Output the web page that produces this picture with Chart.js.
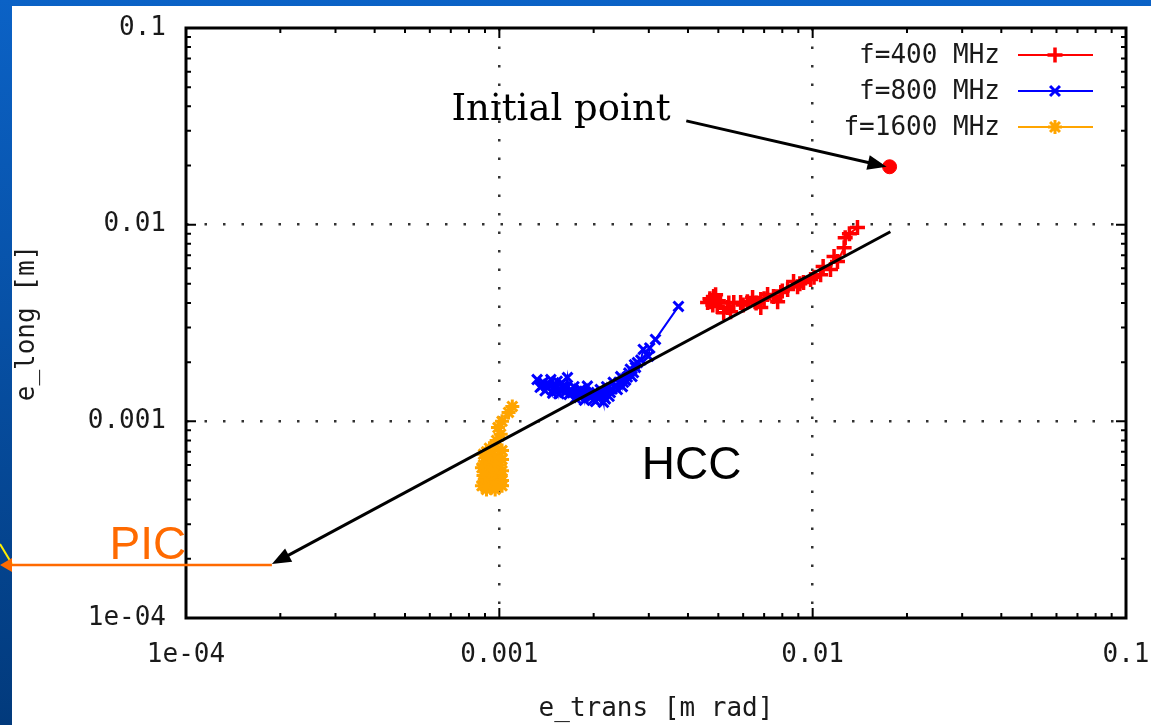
<!DOCTYPE html>
<html>
<head>
<meta charset="utf-8">
<script src="https://cdn.jsdelivr.net/npm/chart.js@4.4.1/dist/chart.umd.min.js"></script>
<style>
  html, body { margin: 0; padding: 0; background: #0a58b4; overflow: hidden; }
  canvas { display: block; }
</style>
</head>
<body>
<canvas id="chart" width="1151" height="725"></canvas>
<script>
// axis ticks (log decades)
const xTicks = [1e-4, 1e-3, 1e-2, 1e-1]
const xTickLabels = ['1e-04', '0.001', '0.01', '0.1']
const yTicks = [1e-4, 1e-3, 1e-2, 1e-1]
const yTickLabels = ['1e-04', '0.001', '0.01', '0.1']

const seriesLabels = ['f=400 MHz', 'f=800 MHz', 'f=1600 MHz']
const seriesColors = ['#ff0000', '#0000ff', '#ffa500']
const seriesMarkers = ['cross', 'crossRot', 'star']

// from the start of each run (upper right) down
const red400 = [
  {x: 0.0139, y: 0.00966}, {x: 0.0131, y: 0.0090}, {x: 0.0127, y: 0.00859}, {x: 0.0126, y: 0.00764},
  {x: 0.0120, y: 0.00649}, {x: 0.0117, y: 0.00689}, {x: 0.0114, y: 0.00591}, {x: 0.0108, y: 0.00612},
  {x: 0.0106, y: 0.00557}, {x: 0.0101, y: 0.0054}, {x: 0.00985, y: 0.00526}, {x: 0.00935, y: 0.00508},
  {x: 0.0091, y: 0.0050}, {x: 0.00895, y: 0.00484}, {x: 0.00869, y: 0.00514}, {x: 0.00832, y: 0.00468},
  {x: 0.0080, y: 0.0046}, {x: 0.00791, y: 0.00452}, {x: 0.00773, y: 0.00406}, {x: 0.0075, y: 0.00431},
  {x: 0.00718, y: 0.00441}, {x: 0.0070, y: 0.0042}, {x: 0.00683, y: 0.00416}, {x: 0.00683, y: 0.00379},
  {x: 0.0066, y: 0.0040}, {x: 0.00643, y: 0.00426}, {x: 0.00619, y: 0.00406}, {x: 0.0060, y: 0.0039},
  {x: 0.00589, y: 0.00402}, {x: 0.0056, y: 0.00402}, {x: 0.00547, y: 0.00361}, {x: 0.0054, y: 0.0040},
  {x: 0.00535, y: 0.00379}, {x: 0.0052, y: 0.00357}, {x: 0.00508, y: 0.00402}, {x: 0.0050, y: 0.0041},
  {x: 0.00496, y: 0.00384}, {x: 0.0049, y: 0.0044}, {x: 0.00483, y: 0.00431}, {x: 0.0048, y: 0.0039},
  {x: 0.00472, y: 0.00406}, {x: 0.0047, y: 0.0042}, {x: 0.00462, y: 0.00402}
]
const blue800 = [
  {x: 0.00373, y: 0.00384}, {x: 0.00315, y: 0.00261}, {x: 0.00302, y: 0.00236}, {x: 0.00299, y: 0.00214},
  {x: 0.00288, y: 0.00232}, {x: 0.00283, y: 0.00205}, {x: 0.00276, y: 0.00199}, {x: 0.00272, y: 0.00188},
  {x: 0.00270, y: 0.00194}, {x: 0.00268, y: 0.00177}, {x: 0.00265, y: 0.00169}, {x: 0.00262, y: 0.00184},
  {x: 0.00259, y: 0.00176}, {x: 0.00256, y: 0.00168}, {x: 0.00253, y: 0.00162}, {x: 0.00249, y: 0.00158},
  {x: 0.00247, y: 0.00150}, {x: 0.00244, y: 0.00169}, {x: 0.00241, y: 0.00158}, {x: 0.00238, y: 0.00145},
  {x: 0.00235, y: 0.00152}, {x: 0.00231, y: 0.00158}, {x: 0.00229, y: 0.00146}, {x: 0.00226, y: 0.00140},
  {x: 0.00224, y: 0.00134}, {x: 0.00220, y: 0.00150}, {x: 0.00218, y: 0.00130}, {x: 0.00215, y: 0.00134},
  {x: 0.00215, y: 0.00125}, {x: 0.00212, y: 0.00139}, {x: 0.00210, y: 0.00145}, {x: 0.00208, y: 0.00131},
  {x: 0.00206, y: 0.00137}, {x: 0.00203, y: 0.00126}, {x: 0.00200, y: 0.00129}, {x: 0.00198, y: 0.00135},
  {x: 0.00195, y: 0.00132}, {x: 0.00193, y: 0.00140}, {x: 0.00191, y: 0.00151}, {x: 0.00188, y: 0.00140},
  {x: 0.00187, y: 0.00128}, {x: 0.00185, y: 0.00137}, {x: 0.00182, y: 0.00145}, {x: 0.00180, y: 0.00133},
  {x: 0.00177, y: 0.00142}, {x: 0.00175, y: 0.00131}, {x: 0.00173, y: 0.00150}, {x: 0.00171, y: 0.00141},
  {x: 0.00169, y: 0.00145}, {x: 0.00167, y: 0.00137}, {x: 0.00165, y: 0.00167}, {x: 0.00163, y: 0.00147},
  {x: 0.00162, y: 0.00140}, {x: 0.00160, y: 0.00151}, {x: 0.00158, y: 0.00157}, {x: 0.00156, y: 0.00146},
  {x: 0.00155, y: 0.00138}, {x: 0.00153, y: 0.00160}, {x: 0.00151, y: 0.00150}, {x: 0.00149, y: 0.00145},
  {x: 0.00148, y: 0.00139}, {x: 0.00146, y: 0.00163}, {x: 0.00144, y: 0.00155}, {x: 0.00142, y: 0.00150},
  {x: 0.00140, y: 0.00143}, {x: 0.00138, y: 0.00158}, {x: 0.00137, y: 0.00152}, {x: 0.00135, y: 0.00149},
  {x: 0.00132, y: 0.00163}
]
const orange1600 = [
  {x: 0.00110, y: 0.00119}, {x: 0.00107, y: 0.00111}, {x: 0.00102, y: 0.00100}, {x: 0.00099, y: 0.00093},
  {x: 0.00101, y: 0.00086}, {x: 0.00098, y: 0.00080}, {x: 0.00097, y: 0.00074}, {x: 0.00093, y: 0.00073},
  {x: 0.00102, y: 0.00071}, {x: 0.00091, y: 0.00070}, {x: 0.00089, y: 0.00068}, {x: 0.00095, y: 0.00068},
  {x: 0.00099, y: 0.00066}, {x: 0.00102, y: 0.00064}, {x: 0.00092, y: 0.00064}, {x: 0.00096, y: 0.00063},
  {x: 0.00092, y: 0.00062}, {x: 0.00089, y: 0.00060}, {x: 0.00095, y: 0.00060}, {x: 0.00100, y: 0.00060},
  {x: 0.00088, y: 0.00058}, {x: 0.00097, y: 0.00059}, {x: 0.00102, y: 0.00056}, {x: 0.00093, y: 0.00056},
  {x: 0.00094, y: 0.00055}, {x: 0.00089, y: 0.00053}, {x: 0.00097, y: 0.00053}, {x: 0.00101, y: 0.00053},
  {x: 0.00102, y: 0.00050}, {x: 0.00095, y: 0.00050}, {x: 0.00093, y: 0.00049}, {x: 0.00089, y: 0.00049},
  {x: 0.00088, y: 0.00047}, {x: 0.00098, y: 0.00047}, {x: 0.00102, y: 0.00047}, {x: 0.00094, y: 0.00046},
  {x: 0.00091, y: 0.00045}, {x: 0.00097, y: 0.00045}
]
const initialPoint = [{x: 0.0176, y: 0.0197}]

// annotations (data coordinates)
const notes = {
  initialText: {x: 0.00352, y: 0.0341},
  initialArrowFrom: {x: 0.00395, y: 0.0337},
  hccText: {x: 0.00285, y: 0.000508},
  hccLine: [{x: 0.0177, y: 0.0092}, {x: 0.000188, y: 0.000188}],
  picText: {x: 5.7e-5, y: 0.0002}
}

const mono = '"DejaVu Sans Mono", monospace'
const inkColor = '#1a1a1a'

function arrow(ctx, x1, y1, x2, y2, color) {
  const a = Math.atan2(y2 - y1, x2 - x1)
  const c = Math.cos(a), s = Math.sin(a)
  ctx.strokeStyle = color
  ctx.fillStyle = color
  ctx.lineWidth = 3
  ctx.beginPath()
  ctx.moveTo(x1, y1)
  ctx.lineTo(x2 - 10 * c, y2 - 10 * s)
  ctx.stroke()
  ctx.beginPath()
  ctx.moveTo(x2, y2)
  ctx.lineTo(x2 - 19 * c + 7.5 * s, y2 - 19 * s - 7.5 * c)
  ctx.lineTo(x2 - 19 * c - 7.5 * s, y2 - 19 * s + 7.5 * c)
  ctx.closePath()
  ctx.fill()
}

const slidePlugin = {
  id: 'slide',
  beforeDraw(chart) {
    const ctx = chart.ctx
    const g = ctx.createLinearGradient(0, 0, 0, chart.height)
    g.addColorStop(0, '#0b62c6')
    g.addColorStop(1, '#023a7c')
    ctx.save()
    ctx.fillStyle = g
    ctx.fillRect(0, 0, chart.width, chart.height)
    ctx.fillStyle = '#ffffff'
    ctx.fillRect(12, 6, chart.width - 12, chart.height - 6)
    ctx.restore()
  },
  afterDatasetsDraw(chart) {
    const {ctx, chartArea: a, scales: {x, y}} = chart
    ctx.save()
    // tics, inward, on all four sides
    ctx.strokeStyle = '#000'
    ctx.lineWidth = 2
    for (let i = 0; i < xTicks.length; i++) {
      const dec = xTicks[i]
      for (let m = 1; m <= (i === xTicks.length - 1 ? 1 : 9); m++) {
        const len = m === 1 ? 10 : 5
        const px = x.getPixelForValue(dec * m)
        ctx.beginPath()
        ctx.moveTo(px, a.bottom); ctx.lineTo(px, a.bottom - len)
        ctx.moveTo(px, a.top); ctx.lineTo(px, a.top + len)
        ctx.stroke()
      }
    }
    for (let i = 0; i < yTicks.length; i++) {
      const dec = yTicks[i]
      for (let m = 1; m <= (i === yTicks.length - 1 ? 1 : 9); m++) {
        const len = m === 1 ? 10 : 5
        const py = y.getPixelForValue(dec * m)
        ctx.beginPath()
        ctx.moveTo(a.left, py); ctx.lineTo(a.left + len, py)
        ctx.moveTo(a.right, py); ctx.lineTo(a.right - len, py)
        ctx.stroke()
      }
    }
    ctx.lineWidth = 3
    ctx.strokeRect(a.left, a.top, a.right - a.left, a.bottom - a.top)
    ctx.restore()
  },
  afterDraw(chart) {
    const {ctx, chartArea: a, scales: {x, y}} = chart
    ctx.save()
    // key
    ctx.font = '26px ' + mono
    ctx.textAlign = 'right'
    ctx.textBaseline = 'middle'
    for (let i = 0; i < 3; i++) {
      const ds = chart.data.datasets[i]
      const cy = a.top + 27 + 36 * i
      ctx.fillStyle = inkColor
      ctx.fillText(ds.label, a.right - 126, cy + 1)
      ctx.strokeStyle = ds.borderColor
      ctx.fillStyle = ds.borderColor
      ctx.lineWidth = 2
      ctx.beginPath()
      ctx.moveTo(a.right - 108, cy); ctx.lineTo(a.right - 33, cy)
      ctx.stroke()
      ctx.lineWidth = ds.pointBorderWidth
      Chart.helpers.drawPoint(ctx, {pointStyle: ds.pointStyle, radius: ds.pointRadius, borderWidth: ds.pointBorderWidth, rotation: 0}, a.right - 71, cy)
    }
    // Initial point
    const ix = x.getPixelForValue(notes.initialText.x)
    const iy = y.getPixelForValue(notes.initialText.y)
    ctx.fillStyle = '#000'
    ctx.font = '37px "DejaVu Serif", serif'
    ctx.textAlign = 'right'
    ctx.textBaseline = 'alphabetic'
    ctx.fillText('Initial point', ix, iy)
    arrow(ctx, x.getPixelForValue(notes.initialArrowFrom.x), y.getPixelForValue(notes.initialArrowFrom.y),
      x.getPixelForValue(initialPoint[0].x) - 3, y.getPixelForValue(initialPoint[0].y), '#000')
    // HCC
    const h0 = notes.hccLine[0], h1 = notes.hccLine[1]
    const hx1 = x.getPixelForValue(h1.x), hy1 = y.getPixelForValue(h1.y)
    arrow(ctx, x.getPixelForValue(h0.x), y.getPixelForValue(h0.y), hx1, hy1, '#000')
    ctx.font = '46px "Liberation Sans", Arial, sans-serif'
    ctx.textAlign = 'left'
    ctx.fillStyle = '#000'
    ctx.fillText('HCC', x.getPixelForValue(notes.hccText.x), y.getPixelForValue(notes.hccText.y))
    // PIC
    ctx.strokeStyle = '#ff6a00'
    ctx.lineWidth = 2.5
    ctx.beginPath()
    ctx.moveTo(hx1, hy1 + 1); ctx.lineTo(12, hy1 + 1)
    ctx.stroke()
    ctx.strokeStyle = '#ffee00'
    ctx.lineWidth = 2
    ctx.beginPath()
    ctx.moveTo(0, hy1 - 20); ctx.lineTo(12, hy1)
    ctx.stroke()
    ctx.fillStyle = '#ff6a00'
    ctx.beginPath()
    ctx.moveTo(0, hy1 + 1); ctx.lineTo(12, hy1 - 6); ctx.lineTo(12, hy1 + 8)
    ctx.closePath(); ctx.fill()
    ctx.font = '46px "Liberation Sans", Arial, sans-serif'
    ctx.fillText('PIC', x.getPixelForValue(notes.picText.x), y.getPixelForValue(notes.picText.y))
    ctx.restore()
  }
}

const series = [red400, blue800, orange1600]
const markerSize = [7.5, 7, 7]
const markerWidth = [3.5, 3, 3]
const datasets = series.map((data, i) => ({
  label: seriesLabels[i],
  data: data,
  showLine: true,
  borderColor: seriesColors[i],
  backgroundColor: seriesColors[i],
  borderWidth: 2,
  pointStyle: seriesMarkers[i],
  pointRadius: markerSize[i],
  pointBorderWidth: markerWidth[i],
  pointBorderColor: seriesColors[i],
  pointBackgroundColor: seriesColors[i]
}))
datasets.push({
  label: 'initial',
  data: initialPoint,
  showLine: false,
  pointStyle: 'circle',
  pointRadius: 7,
  borderColor: '#ff0000',
  backgroundColor: '#ff0000'
})

const axisFont = {family: mono, size: 26}

new Chart(document.getElementById('chart'), {
  type: 'scatter',
  data: {datasets},
  options: {
    responsive: false,
    animation: false,
    devicePixelRatio: 1,
    layout: {padding: {left: 0, top: 28, right: 25, bottom: 0}},
    plugins: {legend: {display: false}, tooltip: {enabled: false}},
    scales: {
      x: {
        type: 'logarithmic',
        position: 'bottom',
        min: 1e-4,
        max: 0.1,
        afterBuildTicks: s => { s.ticks = xTicks.map(v => ({value: v})) },
        afterFit: s => { s.height = 107; s.paddingLeft = 0; s.paddingRight = 0 },
        ticks: {
          callback: (v, i) => xTickLabels[i],
          font: axisFont, color: inkColor, padding: 22,
          maxRotation: 0, autoSkip: false
        },
        grid: {
          drawTicks: false, lineWidth: 2.5,
          color: c => (c.index === 0 || c.index === xTicks.length - 1) ? 'rgba(0,0,0,0)' : '#333'
        },
        border: {display: false, dash: [2.5, 16]},
        title: {display: true, text: 'e_trans [m rad]', font: axisFont, color: inkColor, padding: {top: 0, bottom: 0}}
      },
      y: {
        type: 'logarithmic',
        position: 'left',
        min: 1e-4,
        max: 0.1,
        afterBuildTicks: s => { s.ticks = yTicks.map(v => ({value: v})) },
        afterFit: s => { s.width = 186; s.paddingTop = 0; s.paddingBottom = 0 },
        ticks: {
          callback: (v, i) => yTickLabels[i],
          font: axisFont, color: inkColor, padding: 20, autoSkip: false
        },
        grid: {
          drawTicks: false, lineWidth: 2.5,
          color: c => (c.index === 0 || c.index === yTicks.length - 1) ? 'rgba(0,0,0,0)' : '#333'
        },
        border: {display: false, dash: [2.5, 16]},
        title: {display: true, text: 'e_long [m]', font: axisFont, color: inkColor, padding: {top: 12, bottom: 0}}
      }
    }
  },
  plugins: [slidePlugin]
})
</script>
</body>
</html>
